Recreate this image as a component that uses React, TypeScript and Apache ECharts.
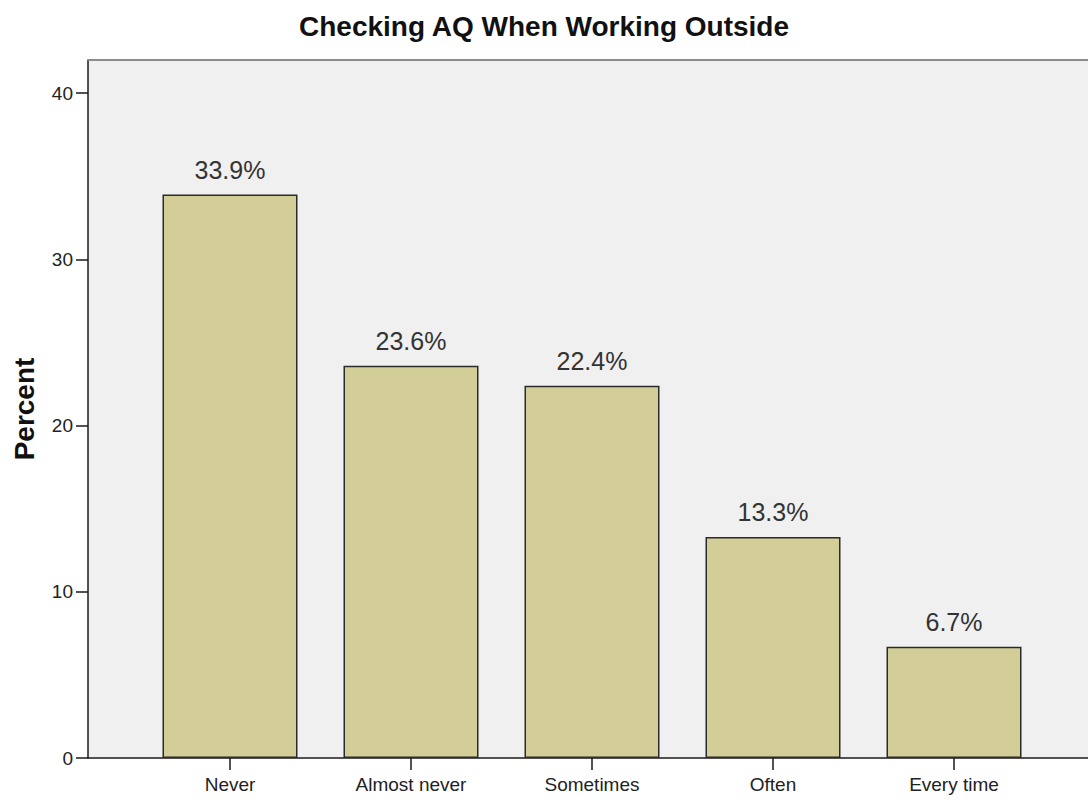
import React, { useEffect, useRef } from "react";
import * as echarts from "echarts";

const titleText = "Checking AQ When Working Outside";
const categories = ["Never", "Almost never", "Sometimes", "Often", "Every time"];
const percents = [33.9, 23.6, 22.4, 13.3, 6.7];
const yTicks = [0, 10, 20, 30, 40];
const yName = "Percent";

const FONT = "'Liberation Sans', Arial, sans-serif";

export default function App() {
  const ref = useRef<HTMLDivElement>(null);
  useEffect(() => {
    if (!ref.current) return;
    const chart = echarts.init(ref.current, null, { renderer: "svg" });
    chart.setOption({
      animation: false,
      textStyle: { fontFamily: FONT },
      title: {
        text: titleText,
        left: "center",
        top: 7,
        textStyle: { fontSize: 28, fontWeight: "bold", color: "#111", fontFamily: FONT },
      },
      grid: [
        {
          left: 88,
          top: 60,
          right: 0,
          bottom: 42,
          show: true,
          backgroundColor: "#f0f0f0",
          borderWidth: 0,
        },
        { left: 139.5, width: 905, top: 60, bottom: 42 },
      ],
      xAxis: [
        {
          gridIndex: 0,
          type: "value",
          min: 0,
          max: 1,
          axisLine: { show: true, lineStyle: { color: "#1a1a1a", width: 1.5 } },
          axisTick: { show: false },
          axisLabel: { show: false },
          splitLine: { show: false },
        },
        {
          gridIndex: 1,
          type: "category",
          data: categories,
          axisLine: { show: false },
          axisTick: {
            show: true,
            alignWithLabel: true,
            length: 12,
            lineStyle: { color: "#1a1a1a", width: 1.5 },
          },
          axisLabel: { fontSize: 19, color: "#222", margin: 17, fontFamily: FONT },
        },
        {
          gridIndex: 0,
          type: "value",
          position: "top",
          min: 0,
          max: 1,
          axisLine: { show: true, onZero: false, lineStyle: { color: "#8c8c8c", width: 2 } },
          axisTick: { show: false },
          axisLabel: { show: false },
          splitLine: { show: false },
        },
      ],
      yAxis: [
        {
          gridIndex: 0,
          type: "value",
          min: 0,
          max: 42,
          name: yName,
          nameLocation: "middle",
          nameRotate: 90,
          nameGap: 50,
          nameTextStyle: { fontSize: 28, fontWeight: "bold", color: "#111", fontFamily: FONT },
          axisLine: { show: true, lineStyle: { color: "#1a1a1a", width: 1.5 } },
          axisTick: {
            show: true,
            length: 12,
            customValues: yTicks,
            lineStyle: { color: "#1a1a1a", width: 1.5 },
          },
          axisLabel: {
            fontSize: 19,
            color: "#222",
            margin: 15,
            customValues: yTicks,
            fontFamily: FONT,
          },
          splitLine: { show: false },
        },
        { gridIndex: 1, type: "value", min: 0, max: 42, show: false, splitLine: { show: false } },
      ],
      series: [
        {
          type: "bar",
          xAxisIndex: 1,
          yAxisIndex: 1,
          data: percents,
          barWidth: 135,
          itemStyle: { color: "#d3ce97", borderColor: "#2b2b2b", borderWidth: 1.5 },
          label: {
            show: true,
            position: "top",
            distance: 12,
            formatter: "{c}%",
            fontSize: 25,
            color: "#333",
            fontFamily: FONT,
          },
        },
      ],
    });
    return () => chart.dispose();
  }, []);
  return (
    <div
      ref={ref}
      style={{ position: "absolute", left: 0, top: 0, width: 1088, height: 800, background: "#fff" }}
    />
  );
}
